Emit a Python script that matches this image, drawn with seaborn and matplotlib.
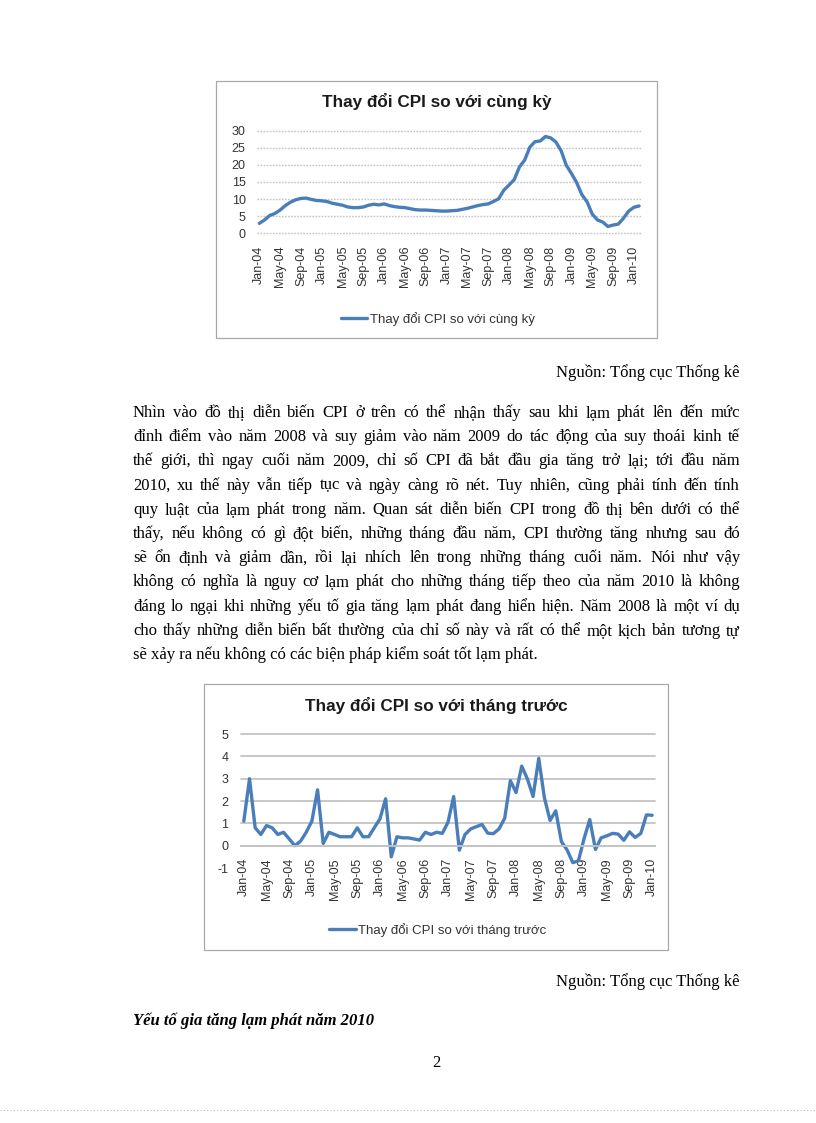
import numpy as np
import pandas as pd
import matplotlib
matplotlib.use("Agg")
import matplotlib.pyplot as plt
import seaborn as sns
from matplotlib.patches import Rectangle
from matplotlib.lines import Line2D

# ---------------- data ----------------
tick_labels = ["Jan-04", "May-04", "Sep-04", "Jan-05", "May-05", "Sep-05",
               "Jan-06", "May-06", "Sep-06", "Jan-07", "May-07", "Sep-07",
               "Jan-08", "May-08", "Sep-08", "Jan-09", "May-09", "Sep-09",
               "Jan-10"]

# CPI change vs same month previous year (%), Jan-04 .. Feb-10
cpi_yoy_2004 = [2.9, 3.9, 5.2, 5.8, 6.8, 8.1, 9.1, 9.8, 10.2, 10.3, 9.9, 9.6]
cpi_yoy_2005 = [9.5, 9.3, 8.8, 8.5, 8.2, 7.7, 7.5, 7.5, 7.7, 8.2, 8.5, 8.3]
cpi_yoy_2006 = [8.6, 8.1, 7.8, 7.6, 7.5, 7.2, 6.9, 6.8, 6.8, 6.7, 6.6, 6.5]
cpi_yoy_2007 = [6.5, 6.6, 6.7, 7.0, 7.3, 7.7, 8.1, 8.4, 8.6, 9.3, 10.1, 12.6]
cpi_yoy_2008 = [14.1, 15.7, 19.4, 21.4, 25.2, 26.8, 27.0, 28.3, 27.9, 26.7, 24.2, 19.9]
cpi_yoy_2009 = [17.5, 14.8, 11.3, 9.2, 5.6, 3.9, 3.3, 2.0, 2.4, 2.7, 4.4, 6.5]
cpi_yoy_2010 = [7.6, 8.0]

# CPI change vs previous month (%), Jan-04 .. Jan-10
cpi_mom_2004 = [1.1, 3.0, 0.8, 0.5, 0.9, 0.8, 0.5, 0.6, 0.3, 0.0, 0.2, 0.6]
cpi_mom_2005 = [1.1, 2.5, 0.1, 0.6, 0.5, 0.4, 0.4, 0.4, 0.8, 0.4, 0.4, 0.8]
cpi_mom_2006 = [1.2, 2.1, -0.5, 0.4, 0.35, 0.35, 0.3, 0.25, 0.6, 0.5, 0.6, 0.55]
cpi_mom_2007 = [1.05, 2.2, -0.2, 0.5, 0.75, 0.85, 0.95, 0.56, 0.54, 0.75, 1.23, 2.91]
cpi_mom_2008 = [2.38, 3.56, 2.99, 2.2, 3.91, 2.14, 1.13, 1.56, 0.18, -0.19, -0.76, -0.68]
cpi_mom_2009 = [0.32, 1.17, -0.17, 0.35, 0.44, 0.55, 0.52, 0.24, 0.62, 0.37, 0.55, 1.38]
cpi_mom_2010 = [1.36]

title1 = "Thay đổi CPI so với cùng kỳ"
title2 = "Thay đổi CPI so với tháng trước"
source_text = "Nguồn: Tổng cục Thống kê"
paragraph_lines = [
    "Nhìn vào đồ thị diễn biến CPI ở trên có thể nhận thấy sau khi lạm phát lên đến mức",
    "đỉnh điểm vào năm 2008 và suy giảm vào năm 2009 do tác động của suy thoái kinh tế",
    "thế giới, thì ngay cuối năm 2009, chỉ số CPI đã bắt đầu gia tăng trở lại; tới đầu năm",
    "2010, xu thế này vẫn tiếp tục và ngày càng rõ nét. Tuy nhiên, cũng phải tính đến tính",
    "quy luật của lạm phát trong năm. Quan sát diễn biến CPI trong đồ thị bên dưới có thể",
    "thấy, nếu không có gì đột biến, những tháng đầu năm, CPI thường tăng nhưng sau đó",
    "sẽ ổn định và giảm dần, rồi lại nhích lên trong những tháng cuối năm. Nói như vậy",
    "không có nghĩa là nguy cơ lạm phát cho những tháng tiếp theo của năm 2010 là không",
    "đáng lo ngại khi những yếu tố gia tăng lạm phát đang hiển hiện. Năm 2008 là một ví dụ",
    "cho thấy những diễn biến bất thường của chỉ số này và rất có thể một kịch bản tương tự",
    "sẽ xảy ra nếu không có các biện pháp kiểm soát tốt lạm phát.",
]
heading_text = "Yếu tố gia tăng lạm phát năm 2010"
page_number = "2"

yoy = (cpi_yoy_2004 + cpi_yoy_2005 + cpi_yoy_2006 + cpi_yoy_2007
       + cpi_yoy_2008 + cpi_yoy_2009 + cpi_yoy_2010)
mom = (cpi_mom_2004 + cpi_mom_2005 + cpi_mom_2006 + cpi_mom_2007
       + cpi_mom_2008 + cpi_mom_2009 + cpi_mom_2010)
df1 = pd.DataFrame({"idx": np.arange(len(yoy)), "value": yoy})
df2 = pd.DataFrame({"idx": np.arange(len(mom)), "value": mom})
tick_pos = np.arange(len(tick_labels)) * 4

# ---------------- figure ----------------
W, H = 816, 1123
sns.set_theme(style="white")
plt.rcParams["font.family"] = ["Liberation Sans", "DejaVu Sans"]
plt.rcParams["axes.unicode_minus"] = False
SERIF = ["Liberation Serif", "DejaVu Serif"]
BLUE = "#4a7ebb"
GRID = "#c4c4c4"
TXT = "#333333"

fig = plt.figure(figsize=(W / 100, H / 100), dpi=100)
fig.patch.set_facecolor("white")


def fx(x):
    return x / W


def fy(y):
    return 1 - y / H


def axes_px(l, t, r, b):
    return fig.add_axes([l / W, 1 - b / H, (r - l) / W, (b - t) / H])


def box(l, t, r, b):
    fig.add_artist(Rectangle((fx(l), fy(b)), (r - l) / W, (b - t) / H,
                             transform=fig.transFigure, fill=False,
                             ec="#a8a8a8", lw=0.9))


# ---------- chart 1 ----------
box(216, 81, 657, 338)
ax1 = axes_px(256.7, 130.7, 641.7, 233.3)
sns.lineplot(data=df1, x="idx", y="value", ax=ax1, color=BLUE, lw=2.4,
             label=title1)
ax1.set_xlim(-0.5, len(yoy) - 0.5)
ax1.set_ylim(0, 30)
ax1.set_yticks(range(0, 31, 5))
ax1.set_xticks(tick_pos)
ax1.set_xticklabels(tick_labels, rotation=90)
ax1.set_xlabel("")
ax1.set_ylabel("")
ax1.set_facecolor("none")
ax1.yaxis.grid(True, color=GRID, lw=1.0, ls=(0, (1.2, 1.0)))
ax1.xaxis.grid(False)
for gl in ax1.get_ygridlines():
    gl.set_clip_on(False)
for s in ax1.spines.values():
    s.set_visible(False)
ax1.tick_params(axis="both", length=0, labelsize=9, colors=TXT)
ax1.tick_params(axis="x", pad=9)
ax1.tick_params(axis="y", pad=8)
h1, l1 = ax1.get_legend_handles_labels()
ax1.get_legend().remove()
fig.text(fx(436.5), fy(102), title1, ha="center", va="center",
         fontsize=12.3, fontweight="bold", color="#1a1a1a")
fig.legend(h1, l1, loc="center", bbox_to_anchor=(fx(438), fy(319)),
           frameon=False, fontsize=9.5, handlelength=2.0, handletextpad=0.2,
           labelcolor=TXT)

# ---------- chart 2 ----------
box(204, 684, 668, 950)
ax2 = axes_px(241, 734, 655, 868)
sns.lineplot(data=df2, x="idx", y="value", ax=ax2, color=BLUE, lw=2.4,
             label=title2)
for k, s in ax2.spines.items():
    s.set_visible(False)
ax2.spines["bottom"].set_visible(True)
ax2.spines["bottom"].set_position(("data", 0))
ax2.spines["bottom"].set_color(GRID)
ax2.spines["bottom"].set_linewidth(1.3)
ax2.set_xlim(-0.5, len(mom) - 0.5)
ax2.set_ylim(-1, 5)
ax2.set_yticks(range(-1, 6))
ax2.set_xticks(tick_pos)
ax2.set_xticklabels(tick_labels, rotation=90)
ax2.set_xlabel("")
ax2.set_ylabel("")
ax2.set_facecolor("none")
ax2.yaxis.grid(True, color=GRID, lw=1.3)
ax2.xaxis.grid(False)
ygl = ax2.get_ygridlines()
ygl[0].set_visible(False)
for gl in ygl:
    gl.set_clip_on(False)
ax2.tick_params(axis="both", length=0, labelsize=9, colors=TXT)
ax2.tick_params(axis="x", pad=9, labelrotation=90)
ax2.tick_params(axis="y", pad=9)
h2, l2 = ax2.get_legend_handles_labels()
ax2.get_legend().remove()
fig.text(fx(436), fy(706), title2, ha="center", va="center",
         fontsize=12.3, fontweight="bold", color="#1a1a1a")
fig.legend(h2, l2, loc="center", bbox_to_anchor=(fx(438), fy(930)),
           frameon=False, fontsize=9.5, handlelength=2.0, handletextpad=0.2,
           labelcolor=TXT)

# ---------- document text ----------
BODY = dict(fontsize=12, family=SERIF, color="black")
fig.text(fx(740), fy(377), source_text, ha="right", va="baseline", **BODY)
fig.text(fx(740), fy(986), source_text, ha="right", va="baseline", **BODY)

renderer = fig.canvas.get_renderer()


def width_px(s):
    t = fig.text(0, 0, s, **BODY)
    w = t.get_window_extent(renderer).width
    t.remove()
    return w


LEFT, RIGHT = 133, 740
for i, line in enumerate(paragraph_lines):
    base = 417 + 24.2 * i
    if i == len(paragraph_lines) - 1:
        fig.text(fx(LEFT), fy(base), line, ha="left", va="baseline", **BODY)
        continue
    words = line.split(" ")
    ws = [width_px(w) for w in words]
    gap = (RIGHT - LEFT - sum(ws)) / (len(words) - 1)
    x = LEFT
    for w, wd in zip(words, ws):
        fig.text(fx(x), fy(base), w, ha="left", va="baseline", **BODY)
        x += wd + gap

fig.text(fx(133), fy(1025), heading_text, ha="left", va="baseline",
         fontsize=12, family=SERIF, fontweight="bold", fontstyle="italic",
         color="black")
fig.text(fx(436), fy(1067), page_number, ha="center", va="baseline", **BODY)

fig.add_artist(Line2D([0, 1], [fy(1110), fy(1110)], transform=fig.transFigure,
                      color="#b8b8b8", lw=0.8, ls=(0, (1, 2))))

fig.savefig("out.png", dpi=100, facecolor="white")
